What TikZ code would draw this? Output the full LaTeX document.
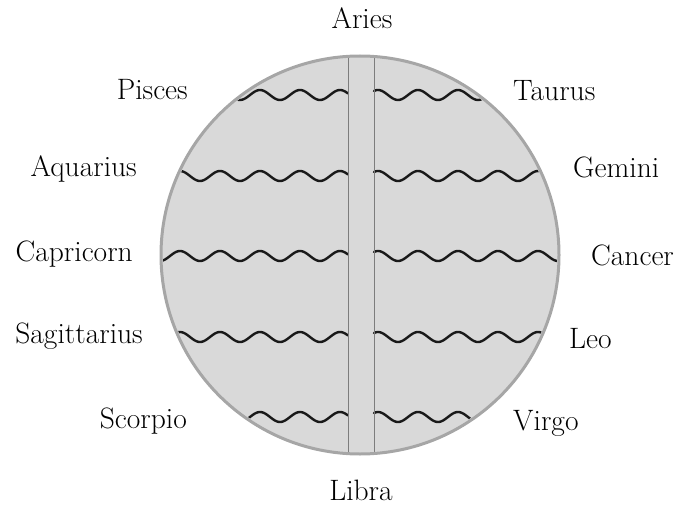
\documentclass[tikz,border=0pt]{standalone}
\usepackage{tikz}
\definecolor{discfill}{RGB}{217,217,217}
\definecolor{discline}{RGB}{166,166,166}
\definecolor{bandline}{RGB}{125,125,125}
\begin{document}
\begin{tikzpicture}[x=1pt,y=-1pt,
  lbl/.style={inner sep=0pt,font=\fontsize{29.5}{35}\selectfont},
  wave/.style={line width=2.4pt,black!90,line cap=round},
  bandedge/.style={line width=1pt,bandline},
  rim/.style={line width=3pt,discline}]
\useasboundingbox (0,0) rectangle (682,505);
% disc
\fill[discfill] (360,255) circle [radius=199pt];
\begin{scope}
  \clip (360,255) circle [radius=197pt];
  \foreach \yc in {95,176,256,337,417}{
    \draw[wave] plot[domain=160:348,samples=120,smooth] (\x,{\yc-5*cos(9*(\x-340))});
    \draw[wave] plot[domain=374:560,samples=120,smooth] (\x,{\yc-5*cos(9*(\x-378))});
  }
\end{scope}
\begin{scope}
  \clip (360,255) circle [radius=199pt];
  \draw[bandedge] (348,50) -- (348,460);
  \draw[bandedge] (374,50) -- (374,460);
\end{scope}
\draw[rim] (360,255) circle [radius=199pt];
% labels
\node[lbl,anchor=base] (aries) at (362,29) {Aries};
\node[lbl,anchor=base] (libra) at (361,500) {Libra};
\node[lbl,anchor=base east] (pisces) at (188,100) {Pisces};
\node[lbl,anchor=base east] (aquarius) at (137,176) {Aquarius};
\node[lbl,anchor=base east] (capricorn) at (133,261) {Capricorn};
\node[lbl,anchor=base east] (sagittarius) at (143,343) {Sagittarius};
\node[lbl,anchor=base east] (scorpio) at (187,428) {Scorpio};
\node[lbl,anchor=base west] (taurus) at (513,101) {Taurus};
\node[lbl,anchor=base west] (gemini) at (573,178) {Gemini};
\node[lbl,anchor=base west] (cancer) at (591,265) {Cancer};
\node[lbl,anchor=base west] (leo) at (569,348) {Leo};
\node[lbl,anchor=base west] (virgo) at (513,430) {Virgo};
\end{tikzpicture}
\end{document}
